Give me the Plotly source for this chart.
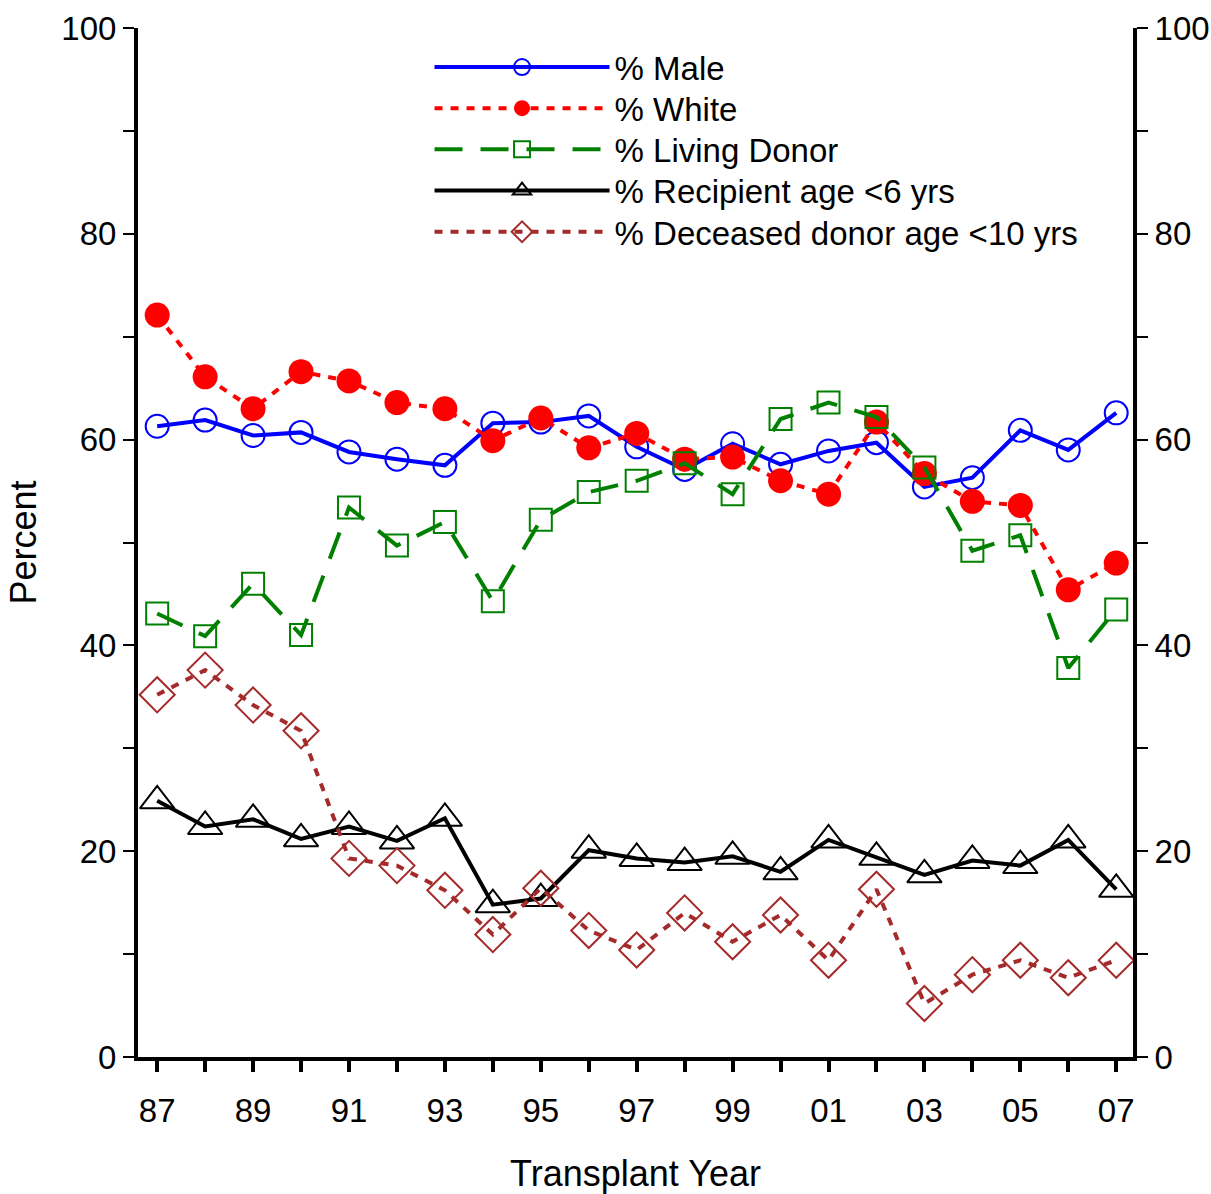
import plotly.graph_objects as go

years = list(range(1987, 2008))
tick_years = [1987, 1989, 1991, 1993, 1995, 1997, 1999, 2001, 2003, 2005, 2007]
tick_labels = ["87", "89", "91", "93", "95", "97", "99", "01", "03", "05", "07"]

male = [61.3, 61.9, 60.4, 60.7, 58.8, 58.1, 57.5, 61.6, 61.7, 62.3, 59.3,
        57.1, 59.6, 57.6, 58.9, 59.7, 55.4, 56.3, 60.9, 59.0, 62.6]
white = [72.1, 66.1, 63.0, 66.6, 65.7, 63.6, 63.0, 59.9, 62.1, 59.2, 60.6,
         58.1, 58.3, 56.0, 54.7, 61.7, 56.7, 54.0, 53.6, 45.4, 48.0]
living = [43.1, 40.9, 46.0, 41.0, 53.4, 49.7, 52.0, 44.3, 52.2, 54.9, 56.0,
          57.7, 54.7, 62.0, 63.6, 62.2, 57.3, 49.2, 50.7, 37.8, 43.5]
recip_lt6 = [24.9, 22.4, 23.1, 21.2, 22.4, 21.0, 23.2, 14.8, 15.4, 20.1, 19.3,
             18.9, 19.5, 18.0, 21.1, 19.4, 17.7, 19.1, 18.6, 21.1, 16.3]
dec_lt10 = [35.2, 37.6, 34.2, 31.7, 19.3, 18.6, 16.2, 11.9, 16.4, 12.3, 10.4,
            14.0, 11.2, 13.8, 9.4, 16.3, 5.2, 8.0, 9.4, 7.7, 9.4]

names = ["% Male", "% White", "% Living Donor", "% Recipient age <6 yrs",
         "% Deceased donor age <10 yrs"]

fig = go.Figure()
fig.add_trace(go.Scatter(x=years, y=male, name=names[0], mode="lines+markers",
                         legend="legend",
                         line=dict(color="#0000FF", width=4),
                         marker=dict(symbol="circle-open", size=23, color="#0000FF",
                                     line=dict(width=2))))
fig.add_trace(go.Scatter(x=years, y=white, name=names[1], mode="lines+markers",
                         legend="legend2",
                         line=dict(color="#FF0000", width=4, dash="8px,8px"),
                         marker=dict(symbol="circle", size=25, color="#FF0000")))
fig.add_trace(go.Scatter(x=years, y=living, name=names[2], mode="lines+markers",
                         legend="legend3",
                         line=dict(color="#008000", width=4, dash="28px,18px"),
                         marker=dict(symbol="square-open", size=22, color="#008000",
                                     line=dict(width=2))))
fig.add_trace(go.Scatter(x=years, y=recip_lt6, name=names[3], mode="lines+markers",
                         legend="legend4",
                         line=dict(color="#000000", width=4),
                         marker=dict(symbol="triangle-up-open", size=30, color="#000000",
                                     line=dict(width=2))))
fig.add_trace(go.Scatter(x=years, y=dec_lt10, name=names[4], mode="lines+markers",
                         legend="legend5",
                         line=dict(color="#A52A2A", width=4, dash="8px,8px"),
                         marker=dict(symbol="diamond-open", size=27, color="#A52A2A",
                                     line=dict(width=2))))
# invisible trace to activate the right axis
fig.add_trace(go.Scatter(x=[years[0]], y=[male[0]], yaxis="y2", showlegend=False,
                         mode="markers", marker=dict(opacity=0), hoverinfo="skip"))

font = "Liberation Sans, Arial, sans-serif"
ytv = list(range(0, 101, 10))
ytt = [str(v) if v % 20 == 0 else "" for v in ytv]

leg_common = dict(x=0.293, xanchor="left", yanchor="middle",
                  bgcolor="rgba(0,0,0,0)", font=dict(size=33, family=font),
                  itemwidth=175)
leg_y = [0.962, 0.922, 0.882, 0.842, 0.802]

fig.update_layout(
    width=1211, height=1194,
    margin=dict(l=138, r=78, t=28, b=137),
    paper_bgcolor="white", plot_bgcolor="white",
    font=dict(family=font, size=30, color="black"),
    showlegend=True,
    legend=dict(y=leg_y[0], **leg_common),
    legend2=dict(y=leg_y[1], **leg_common),
    legend3=dict(y=leg_y[2], **leg_common),
    legend4=dict(y=leg_y[3], **leg_common),
    legend5=dict(y=leg_y[4], **leg_common),
    xaxis=dict(range=[1986.6, 2007.35], tickmode="array", tickvals=years,
               ticktext=[tick_labels[tick_years.index(y)] if y in tick_years else "" for y in years],
               ticks="outside", ticklen=11, tickwidth=4, tickcolor="black",
               ticklabelstandoff=10, automargin=False,
               showline=True, linewidth=4, linecolor="black", mirror=False,
               showgrid=False, zeroline=False,
               title=dict(text="Transplant Year", standoff=37),
               tickfont=dict(size=33)),
    yaxis=dict(range=[0, 100], tickmode="array", tickvals=ytv, ticktext=ytt,
               ticks="outside", ticklen=11, tickwidth=2, tickcolor="black",
               showline=True, linewidth=4, linecolor="black", automargin=False,
               showgrid=False, zeroline=False,
               title=dict(text="Percent", standoff=15),
               tickfont=dict(size=33)),
    yaxis2=dict(range=[0, 100], overlaying="y", side="right", tickmode="array",
                tickvals=ytv, ticktext=ytt, ticks="outside", ticklen=11, tickwidth=2,
                tickcolor="black", showline=True, linewidth=4, linecolor="black",
                automargin=False,
                showgrid=False, zeroline=False, tickfont=dict(size=33)),
)

fig.write_html("out.html")
